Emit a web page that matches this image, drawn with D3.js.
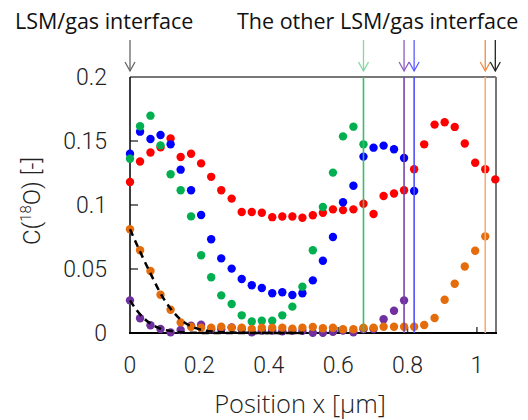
<!DOCTYPE html>
<html>
<head>
  <meta charset='utf-8'>
  <title>C18O profile</title>
  <script src='https://cdn.jsdelivr.net/npm/d3@7'></script>
  <style>
    body { margin: 0; background: #fff; }
  </style>
</head>
<body>
  <script>
    // positions along x [um], shared by all series
    const xPos = [0, 0.029, 0.059, 0.088, 0.117, 0.146, 0.176, 0.205, 0.234, 0.263,
      0.293, 0.322, 0.351, 0.380, 0.410, 0.439, 0.468, 0.497, 0.527, 0.556,
      0.585, 0.614, 0.644, 0.673, 0.702, 0.731, 0.761, 0.790, 0.819, 0.848,
      0.878, 0.907, 0.936, 0.965, 0.995, 1.024, 1.053];

    const redVals = [0.118, 0.134, 0.141, 0.145, 0.152, 0.1375, 0.140, 0.1325, 0.122, 0.1115,
      0.105, 0.0945, 0.0945, 0.094, 0.0905, 0.091, 0.091, 0.090, 0.092, 0.094,
      0.0966, 0.096, 0.0966, 0.101, 0.093, 0.107, 0.109, 0.1115, 0.128, 0.1474,
      0.1628, 0.1646, 0.161, 0.148, 0.133, 0.128, 0.120];
    const blueVals = [0.140, 0.1573, 0.1516, 0.1547, 0.1474, 0.1276, 0.1115, 0.0922, 0.0732, 0.0583,
      0.0503, 0.0422, 0.0373, 0.0352, 0.031, 0.0318, 0.0297, 0.031, 0.0411, 0.0565,
      0.075, 0.1021, 0.115, 0.1378, 0.1448, 0.1464, 0.1435, 0.1367, 0.1109];
    const greenVals = [0.1362, 0.1615, 0.1698, 0.1466, 0.124, 0.1115, 0.0911, 0.0607, 0.0435, 0.0294,
      0.0227, 0.0138, 0.009, 0.0096, 0.0096, 0.0138, 0.0206, 0.0362, 0.0646, 0.0984,
      0.1253, 0.1536, 0.1612, 0.1474];
    const purpleVals = [0.0255, 0.0115, 0.006, 0.0031, 0.0005, 0.0023, 0.0057, 0.0065, 0.003, 0.003,
      0.0044, 0.003, 0.0005, 0.002, 0.002, 0.0013, 0.002, 0.0018, 0.0002, 0.0002,
      0.001, 0.002, 0.0005, 0.003, 0.0031, 0.0107, 0.0174, 0.0255];
    const orangeVals = [0.081, 0.0646, 0.0484, 0.0299, 0.0182, 0.0083, 0.0049, 0.0041, 0.0041, 0.0049,
      0.0041, 0.0041, 0.0032, 0.0041, 0.0041, 0.0041, 0.0034, 0.0041, 0.0047, 0.0037,
      0.0041, 0.0029, 0.0029, 0.0041, 0.0041, 0.0049, 0.0049, 0.0049, 0.0049, 0.0063,
      0.0117, 0.026, 0.0385, 0.052, 0.0643, 0.0755];

    // dashed fit curves
    const fitOrange = [[0, 0.081], [0.03, 0.063], [0.06, 0.046], [0.09, 0.030], [0.12, 0.018],
      [0.15, 0.0095], [0.18, 0.0048], [0.21, 0.0022], [0.25, 0.0009], [0.3, 0.0003], [0.4, 0], [0.5, 0]];
    const fitPurple = [[0, 0.0255], [0.02, 0.0175], [0.04, 0.0115], [0.06, 0.0072], [0.08, 0.0043],
      [0.10, 0.0025], [0.13, 0.0011], [0.16, 0.0004], [0.2, 0.0001], [0.3, 0], [0.5, 0]];

    // the other interface, one per series
    const interfacePos = [0.673, 0.790, 0.819, 1.024, 1.053];
    const interfaceLine = ['#3dbb6e', '#7a44ad', '#4f4fff', '#f4ad7a', null];
    const interfaceArrow = ['#80d9a0', '#8c5cc0', '#5a5aff', '#f08a45', '#222'];

    const xTicks = [0, 0.2, 0.4, 0.6, 0.8, 1];
    const yTicks = [0, 0.05, 0.1, 0.15, 0.2];

    const width = 528, height = 420;
    const margin = { top: 77, right: 32, bottom: 87, left: 130 };

    const svg = d3.select('body').append('svg')
      .attr('width', width)
      .attr('height', height);

    const x = d3.scaleLinear().domain([0, 1.055]).range([margin.left, width - margin.right]);
    const y = d3.scaleLinear().domain([0, 0.2]).range([height - margin.bottom, margin.top]);

    // frame: top and right in grey
    svg.append('line')
      .attr('x1', x(0)).attr('x2', x(1.055))
      .attr('y1', y(0.2)).attr('y2', y(0.2))
      .attr('stroke', '#777').attr('stroke-width', 2);
    svg.append('line')
      .attr('x1', x(1.055)).attr('x2', x(1.055))
      .attr('y1', y(0.2)).attr('y2', y(0))
      .attr('stroke', '#777').attr('stroke-width', 2);

    // inner tick marks
    svg.append('g').selectAll('line')
      .data(yTicks.slice(1, 4))
      .join('line')
      .attr('x1', x(0)).attr('x2', x(0) + 8)
      .attr('y1', d => y(d)).attr('y2', d => y(d))
      .attr('stroke', '#444').attr('stroke-width', 1.5);
    svg.append('g').selectAll('line')
      .data(xTicks.slice(1))
      .join('line')
      .attr('x1', d => x(d)).attr('x2', d => x(d))
      .attr('y1', y(0)).attr('y2', y(0) - 6)
      .attr('stroke', '#444').attr('stroke-width', 1.5);

    // axis lines
    svg.append('line')
      .attr('x1', x(0)).attr('x2', x(0))
      .attr('y1', y(0.2)).attr('y2', y(0))
      .attr('stroke', '#000').attr('stroke-width', 1.5);
    svg.append('line')
      .attr('x1', x(0) - 1).attr('x2', x(1.055) + 1)
      .attr('y1', y(0)).attr('y2', y(0))
      .attr('stroke', '#000').attr('stroke-width', 2);

    // tick labels
    svg.append('g')
      .attr('font-family', 'Roboto, sans-serif')
      .attr('font-weight', 300)
      .attr('font-size', 23)
      .attr('fill', '#222')
      .selectAll('text')
      .data(yTicks)
      .join('text')
      .attr('x', 107)
      .attr('y', d => y(d))
      .attr('dy', '0.36em')
      .attr('text-anchor', 'end')
      .text(d => d);
    svg.append('g')
      .attr('font-family', 'Roboto, sans-serif')
      .attr('font-weight', 300)
      .attr('font-size', 23)
      .attr('fill', '#222')
      .selectAll('text')
      .data(xTicks)
      .join('text')
      .attr('x', d => x(d))
      .attr('y', 373)
      .attr('text-anchor', 'middle')
      .text(d => d);

    // axis titles
    svg.append('text')
      .attr('x', 300).attr('y', 413)
      .attr('text-anchor', 'middle')
      .attr('font-family', 'Open Sans, sans-serif')
      .attr('font-weight', 300)
      .attr('font-size', 25.5)
      .attr('fill', '#222')
      .text('Position x [μm]');
    const yTitle = svg.append('text')
      .attr('transform', 'translate(40,201) rotate(-90)')
      .attr('text-anchor', 'middle')
      .attr('font-family', 'Roboto, sans-serif')
      .attr('font-weight', 300)
      .attr('font-size', 24)
      .attr('fill', '#222');
    yTitle.append('tspan').text('C(');
    yTitle.append('tspan').attr('font-size', 15).attr('dy', -9).text('18');
    yTitle.append('tspan').attr('dy', 9).text('O) [-]');

    // series
    const series = [
      { vals: redVals, color: '#ff0000' },
      { vals: blueVals, color: '#0000ff' },
      { vals: greenVals, color: '#00b050' },
      { vals: purpleVals, color: '#7030a0' },
      { vals: orangeVals, color: '#e46c0a' }
    ];
    series.forEach(s => {
      svg.append('g')
        .attr('fill', s.color)
        .selectAll('circle')
        .data(s.vals)
        .join('circle')
        .attr('cx', (d, i) => x(xPos[i]))
        .attr('cy', d => y(d))
        .attr('r', 4.2);
    });

    // dashed fits
    const line = d3.line()
      .x(d => x(d[0]))
      .y(d => y(d[1]))
      .curve(d3.curveMonotoneX);
    svg.append('g')
      .attr('fill', 'none')
      .attr('stroke', '#000')
      .attr('stroke-width', 2.5)
      .attr('stroke-dasharray', '7,5')
      .selectAll('path')
      .data([fitOrange, fitPurple])
      .join('path')
      .attr('d', line);

    // interface lines
    svg.append('g')
      .selectAll('line')
      .data(interfacePos.filter((d, i) => interfaceLine[i]))
      .join('line')
      .attr('x1', d => x(d)).attr('x2', d => x(d))
      .attr('y1', y(0.2)).attr('y2', y(0))
      .attr('stroke', (d, i) => interfaceLine[i])
      .attr('stroke-width', 1.6);

    // arrows
    function arrow(px, color) {
      const g = svg.append('g')
        .attr('fill', 'none')
        .attr('stroke', color)
        .attr('stroke-width', 1.3);
      g.append('line').attr('x1', px).attr('x2', px).attr('y1', 40).attr('y2', 71);
      g.append('path').attr('d', `M${px - 5},62 L${px},71 L${px + 5},62`);
    }
    arrow(x(0), '#666');
    interfacePos.forEach((d, i) => arrow(x(d), interfaceArrow[i]));

    // annotations
    svg.append('g')
      .attr('font-family', 'Open Sans, sans-serif')
      .attr('font-size', 21.5)
      .attr('fill', '#111')
      .selectAll('text')
      .data([['LSM/gas interface', 15], ['The other LSM/gas interface', 237]])
      .join('text')
      .attr('x', d => d[1])
      .attr('y', 29)
      .text(d => d[0]);
  </script>
</body>
</html>
